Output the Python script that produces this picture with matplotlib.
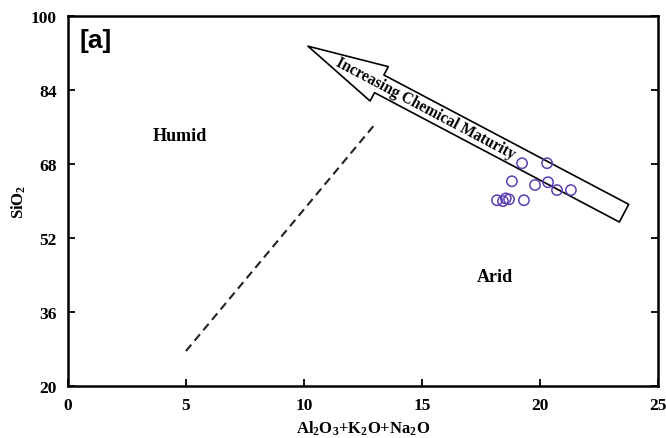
import matplotlib.pyplot as plt

# sample compositions (wt%)
al_k_na = [19.24, 20.30, 18.81, 19.79, 20.34, 20.72, 21.31, 18.18, 18.43, 18.69, 19.32, 18.55]
sio2 = [68.2, 68.2, 64.3, 63.5, 64.1, 62.4, 62.4, 60.2, 60.0, 60.4, 60.2, 60.6]

# humid / arid boundary
boundary_x = [5.0, 12.97]
boundary_y = [27.6, 76.4]

# maturity arrow: tail -> tip
arrow_tail = (23.56, 57.4)
arrow_tip = (10.17, 93.5)

serif = 'Liberation Serif'
plt.rcParams['mathtext.fontset'] = 'custom'
plt.rcParams['mathtext.rm'] = 'Liberation Serif:bold'
plt.rcParams['mathtext.bf'] = 'Liberation Serif:bold'
plt.rcParams['mathtext.default'] = 'bf'

fig = plt.figure(figsize=(6.66, 4.39), dpi=100)
ax = fig.add_axes([0.102, 0.118, 0.886, 0.843])

ax.plot(boundary_x, boundary_y, ls=(0, (4, 2.5)), color='#222222', lw=1.5)

ax.annotate('', xy=arrow_tip, xytext=arrow_tail,
            arrowprops=dict(arrowstyle='simple,head_length=58,head_width=28,tail_width=14.4',
                            mutation_scale=1, fc='white', ec='black', lw=1.2,
                            shrinkA=0, shrinkB=0))
ax.text(15.13, 80.1, 'Increasing Chemical Maturity', rotation=-27.9,
        rotation_mode='anchor', ha='center', va='center',
        family=serif, fontweight='bold', fontsize=11.2)

ax.scatter(al_k_na, sio2, s=55, facecolors='none', edgecolors='#5b3fb0', linewidths=1.1, zorder=3)

ax.text(4.75, 74.3, 'Humid', ha='center', va='center', family=serif, fontweight='bold', fontsize=13)
ax.text(18.1, 43.8, 'Arid', ha='center', va='center', family=serif, fontweight='bold', fontsize=13)
ax.text(0.5, 97.5, '[a]', ha='left', va='top', family='Liberation Sans', fontweight='bold', fontsize=19)

ax.set_xlim(0, 25)
ax.set_ylim(20, 100)
ax.set_xticks([0, 5, 10, 15, 20, 25])
ax.set_yticks([20, 36, 52, 68, 84, 100])
ax.tick_params(direction='in', length=5, width=1.3, right=True, labelsize=12.5, pad=8)
for lab in ax.get_xticklabels() + ax.get_yticklabels():
    lab.set_family(serif)
    lab.set_fontweight('bold')
for sp in ax.spines.values():
    sp.set_linewidth(1.8)

ax.set_xlabel('Al$_2$O$_3$+K$_2$O+Na$_2$O', family=serif, fontweight='bold', fontsize=12, labelpad=4)
ax.set_ylabel('SiO$_2$', family=serif, fontweight='bold', fontsize=12, labelpad=2)

fig.savefig('out.png', dpi=100)
